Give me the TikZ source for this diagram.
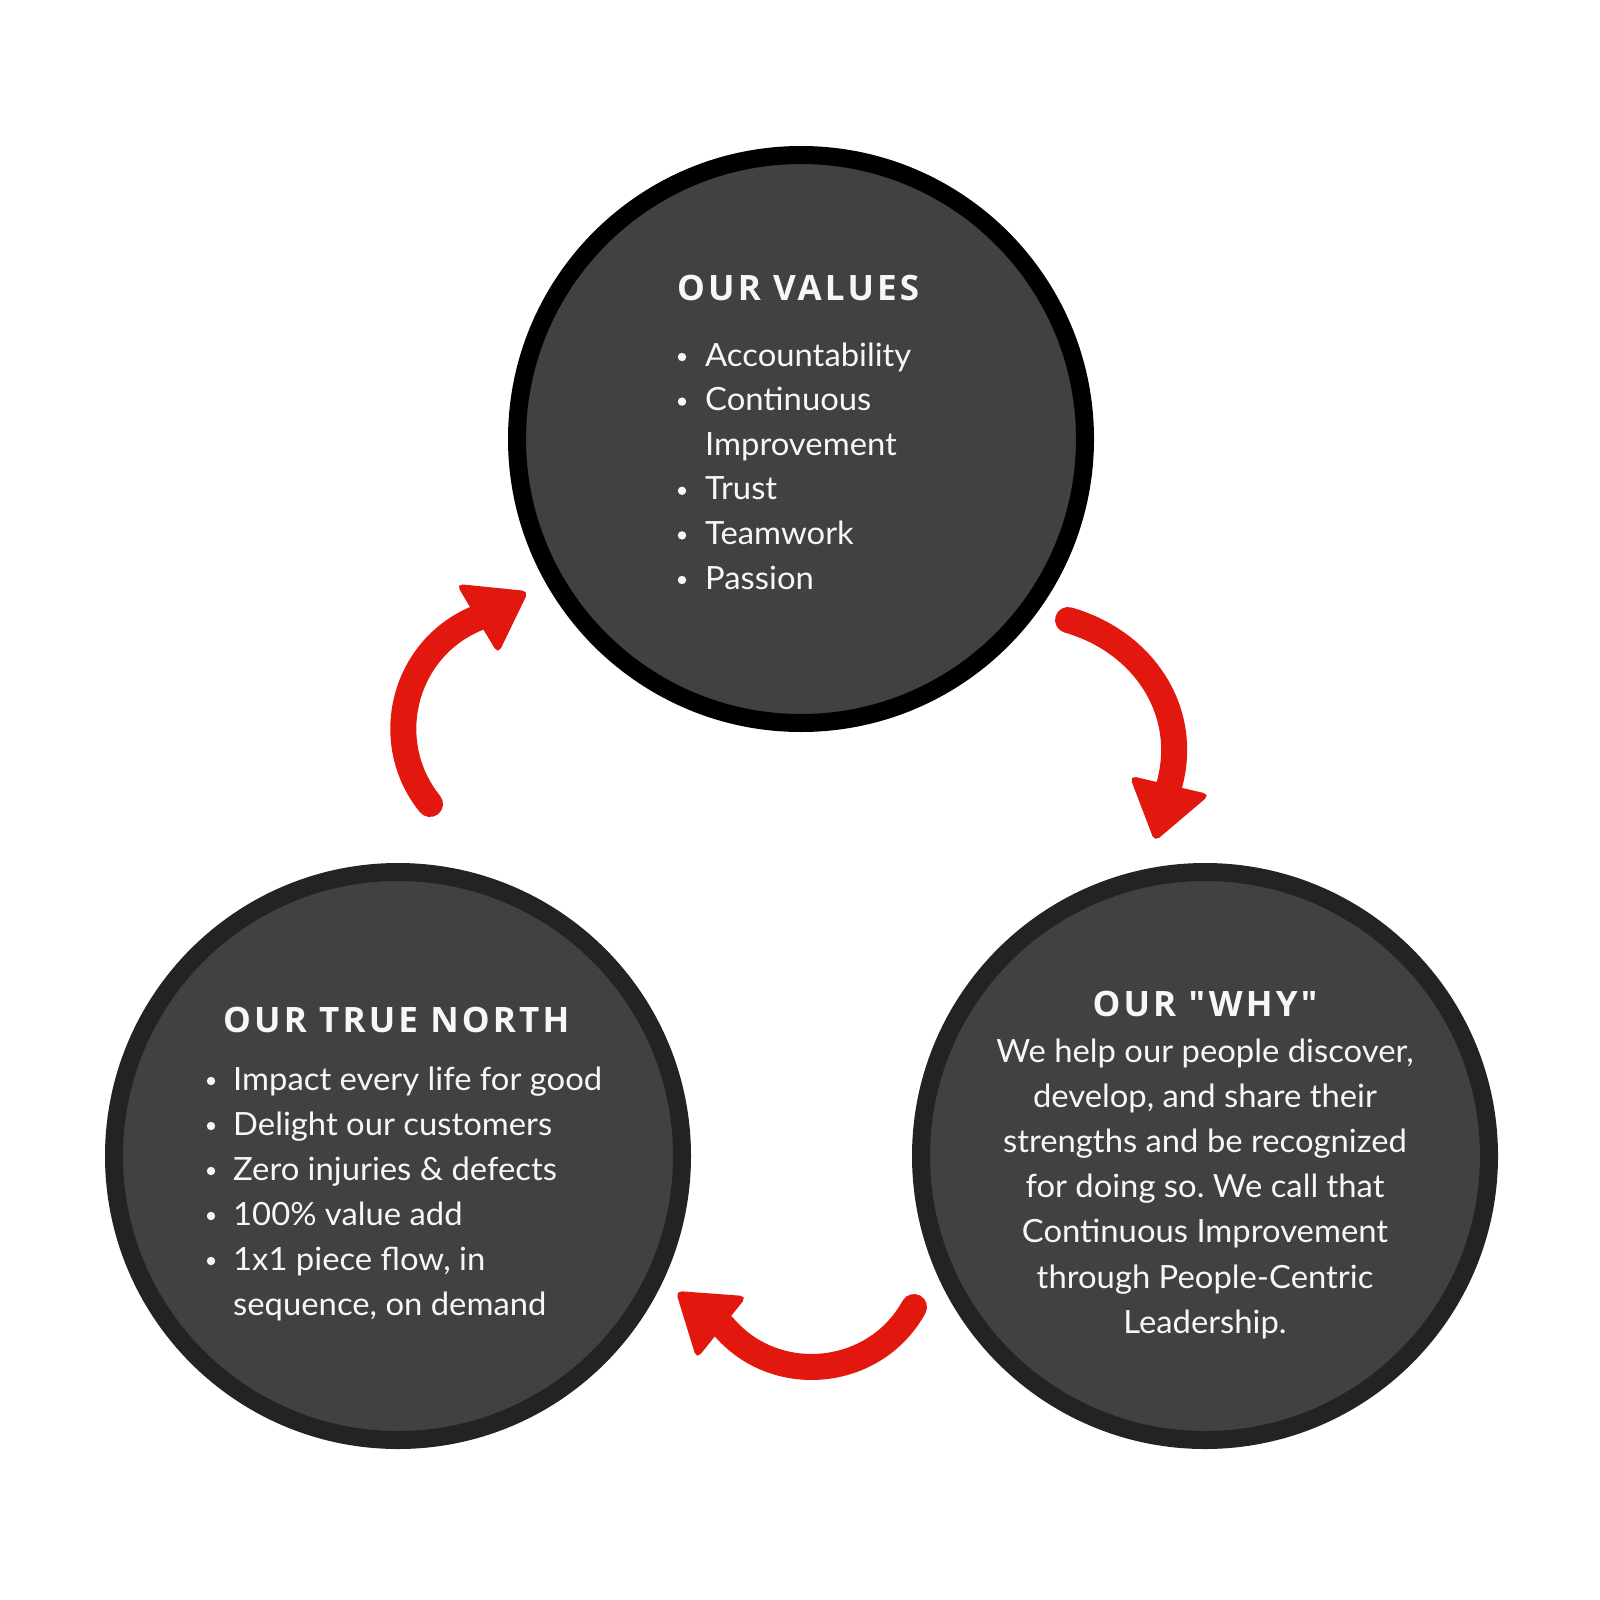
\documentclass[tikz,border=0pt]{standalone}
\usepackage{fontspec}
\setmainfont[FakeStretch=1.025]{Lato}
\newfontfamily\headfont[LetterSpace=9]{Open Sans}
\definecolor{discfill}{HTML}{414141}
\definecolor{ringdark}{HTML}{232323}
\definecolor{arrowred}{HTML}{E2180E}
\definecolor{txt}{HTML}{F7F7F7}
\tikzset{
  disc/.style={circle, fill=discfill, line width=18pt, minimum size=568pt, inner sep=0pt, outer sep=0pt},
  head/.style={text=txt, inner sep=0pt, font=\headfont\bfseries\fontsize{35pt}{40pt}\selectfont},
  body/.style={text=txt, inner sep=0pt, font=\frenchspacing\fontsize{32pt}{44pt}\selectfont},
  shaft/.style={draw=arrowred, line width=26pt, line cap=round},
  tiphead/.style={fill=arrowred, draw=arrowred, line width=2pt, rounded corners=5pt},
  bul/.style={fill=txt, draw=none}
}
\begin{document}
\frenchspacing
\begin{tikzpicture}[x=1pt,y=-1pt]
\fill[white] (0,0) rectangle (1600,1600);
\useasboundingbox (0,0) rectangle (1600,1600);

% circles
\node (values) [disc, draw=black] at (801,439) {};
\node (north) [disc, draw=ringdark] at (398,1156) {};
\node (why) [disc, draw=ringdark] at (1205,1156) {};

% top circle text
\node (vh) [head, anchor=base west] at (677,300) {OUR VALUES};
\foreach \t [count=\i] in {Accountability, Continuous, Improvement, Trust, Teamwork, Passion}{
  \node (v\i) [body, anchor=base west] at (705,{366+44.6*(\i-1)}) {\t};
}
\foreach \i in {1,2,4,5,6}{
  \fill[bul] (682,{366+44.6*(\i-1)-9}) circle (4.2);
}

% bottom-left text
\node (nh) [head, anchor=base west] at (223,1032) {OUR TRUE NORTH};
\foreach \t [count=\i] in {Impact every life for good, Delight our customers, Zero injuries \& defects, 100\% value add, {1x1 piece flow, in}, {sequence, on demand}}{
  \node (n\i) [body, anchor=base west] at (233,{1090+45*(\i-1)}) {\t};
}
\foreach \i in {1,2,3,4,5}{
  \fill[bul] (211,{1090+45*(\i-1)-9}) circle (4.2);
}

% bottom-right text
\node (wh) [head, anchor=base] at (1205,1016) {OUR "WHY"};
\foreach \t [count=\i] in {{We help our people discover,}, {develop, and share their}, strengths and be recognized, {for doing so. We call that}, Continuous Improvement, through People-Centric, Leadership.}{
  \node (w\i) [body, anchor=base] at (1205,{1062+45.2*(\i-1)}) {\t};
}

% arrows
\coordinate (a1s) at (430,804);
\coordinate (a1e) at (480,617);
\draw[shaft] (a1s) .. controls (379,741) and (404,646) .. (a1e);
\coordinate (t1a) at (458,585);
\coordinate (t1b) at (527,592);
\coordinate (t1c) at (498,652);
\path[tiphead] (t1a) -- (t1b) -- (t1c) -- cycle;

\coordinate (a2s) at (1068,620);
\coordinate (a2e) at (1169,786);
\draw[shaft] (a2s) .. controls (1145,642) and (1190,713) .. (a2e);
\coordinate (t2a) at (1131,777);
\coordinate (t2b) at (1208,795);
\coordinate (t2c) at (1155,840);
\path[tiphead] (t2a) -- (t2b) -- (t2c) -- cycle;

\coordinate (a3s) at (914,1307);
\coordinate (a3e) at (723,1326);
\draw[shaft] (a3s) .. controls (875,1378) and (775,1388) .. (a3e);
\coordinate (t3a) at (677,1292);
\coordinate (t3b) at (745,1297);
\coordinate (t3c) at (697,1357);
\path[tiphead] (t3a) -- (t3b) -- (t3c) -- cycle;
\end{tikzpicture}
\end{document}
